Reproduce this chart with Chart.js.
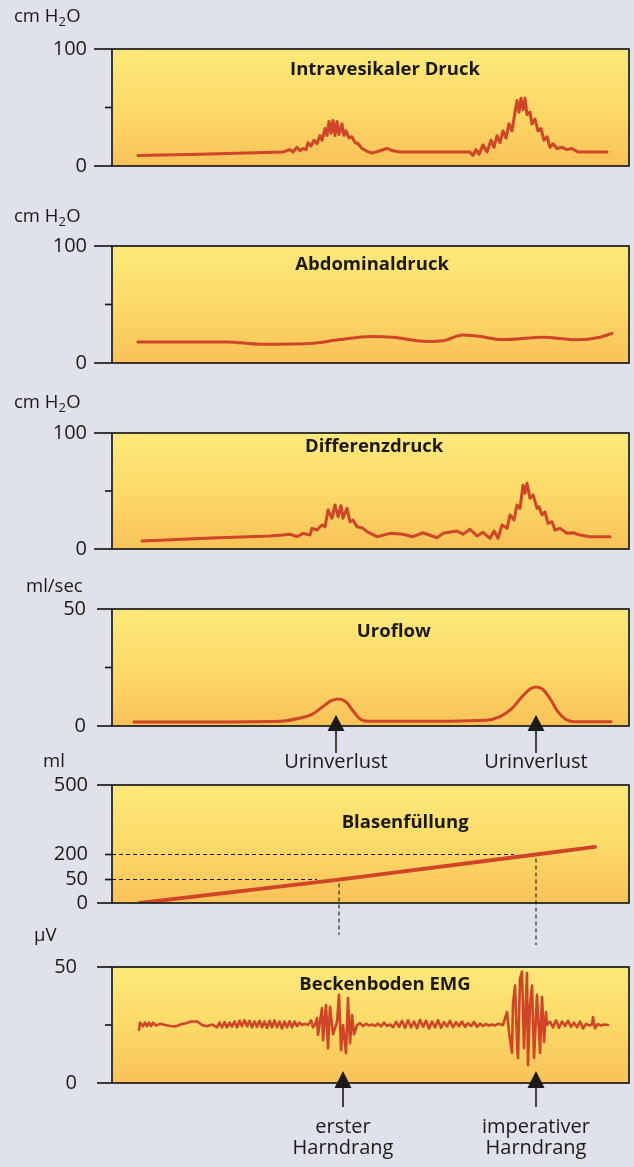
<!DOCTYPE html>
<html lang="de">
<head>
<meta charset="utf-8">
<title>Urodynamische Messung</title>
<script src="https://cdn.jsdelivr.net/npm/chart.js@4.4.0/dist/chart.umd.min.js"></script>
<style>
  html, body { margin: 0; padding: 0; background: #dfe1eb; }
  #blatt { position: relative; width: 634px; height: 1167px; overflow: hidden; background: #dfe1eb; }
  #blatt canvas { position: absolute; left: 0; top: 0; }
</style>
</head>
<body>
<div id="blatt">
  <canvas id="p1" width="634" height="1167"></canvas>
  <canvas id="p2" width="634" height="1167"></canvas>
  <canvas id="p3" width="634" height="1167"></canvas>
  <canvas id="p4" width="634" height="1167"></canvas>
  <canvas id="p5" width="634" height="1167"></canvas>
  <canvas id="p6" width="634" height="1167"></canvas>
</div>
<script>
// Zeitachse in willkuerlichen Einheiten, 0 = linker Rand des Rahmens
const zeitMax = 517;

// Messkurven als [Zeit, Wert]
const intravesikalerDruck = [
  [26, 9], [88, 10], [171, 12], [178, 14], [181, 12], [185, 16], [188, 13], [191, 15], [194, 14],
  [196, 20], [199, 17], [202, 22], [205, 19], [208, 26], [210, 22], [213, 32], [215, 26], [217, 38],
  [219, 28], [221, 39], [223, 26], [225, 38], [227, 27], [230, 36], [232, 26], [234, 30], [237, 24],
  [240, 25], [243, 20], [246, 19], [250, 15], [254, 13], [260, 11], [268, 13], [275, 15], [281, 13],
  [288, 12], [358, 12], [361, 9], [364, 14], [367, 10], [371, 18], [375, 12], [379, 22], [382, 16],
  [385, 26], [388, 20], [391, 30], [394, 24], [397, 36], [400, 30], [403, 46], [405, 56], [407, 46],
  [409, 58], [411, 48], [413, 58], [415, 44], [418, 46], [420, 36], [423, 40], [426, 30], [429, 32],
  [432, 22], [435, 25], [438, 16], [441, 19], [445, 15], [450, 16], [455, 14], [460, 15], [466, 12],
  [495, 12]
];

const abdominaldruck = [
  [26, 18], [115, 18], [148, 16], [198, 16.6], [228, 20], [258, 22.7], [281, 22], [315, 18.4],
  [331, 19], [351, 24], [365, 23], [391, 20], [431, 22], [465, 19.8], [488, 22], [500, 25.3]
];

const differenzdruck = [
  [30, 7], [100, 9.5], [158, 11.2], [171, 12], [178, 12.7], [185, 10.6], [191, 13.5], [198, 12],
  [200, 17.8], [205, 16.4], [210, 20.7], [213, 19.2], [216, 33.6], [220, 26.5], [223, 37.9],
  [226, 27.8], [229, 37.3], [231, 26.5], [235, 35], [238, 23.5], [241, 25], [245, 19.2], [250, 18.4],
  [255, 15], [265, 10.6], [278, 13.5], [291, 12.7], [301, 10.6], [311, 14], [325, 9.7], [331, 13.5],
  [345, 15.5], [351, 12.7], [358, 17], [365, 11.2], [371, 14.4], [378, 9.2], [382, 15.5], [386, 9.2],
  [390, 20.7], [395, 17.8], [398, 29.3], [402, 25], [405, 37.9], [408, 35], [411, 55], [413, 48],
  [415, 56.6], [418, 43.7], [421, 46.6], [425, 35], [427, 36.5], [430, 29.3], [433, 32], [436, 22],
  [440, 23.5], [443, 16.4], [448, 17.8], [455, 13.5], [461, 14], [468, 12], [478, 10.6], [498, 10.6]
];

const uroflow = [
  [22, 1.7], [88, 1.7], [168, 2], [188, 3.4], [200, 5], [210, 8], [218, 10.5], [226, 11.5],
  [234, 10.3], [241, 6.5], [248, 3], [256, 2], [288, 2], [374, 2.5], [388, 4], [400, 7.5],
  [410, 12.5], [418, 15.8], [424, 16.7], [431, 15.6], [439, 11], [446, 6], [454, 2.8], [463, 1.8],
  [499, 1.8]
];

const blasenfuellung = [[28, 0], [227, 50], [424, 200], [483, 233]];

const beckenbodenEmg = [
  [27, 23], [28, 26], [31, 24.5], [33, 26], [35, 24.5], [37, 26], [39, 24.5], [41, 26], [44, 24.8],
  [48, 25.5], [53, 25], [58, 24.6], [64, 24.4], [69, 25.3], [74, 25.8], [79, 26.5], [85, 26.5],
  [90, 25], [95, 24.5], [100, 25.2],
  [105, 24], [107.5, 26], [110, 24], [112.5, 26.2], [115, 24], [117.5, 26], [120, 24.3], [122.5, 26.5],
  [125, 24], [127.5, 26.8], [130, 24.5], [132.5, 27], [135, 24.5], [137.5, 26.8], [140, 24],
  [142.5, 26.5], [145, 24.2], [147.5, 26.8], [150, 24], [152.5, 26.5], [155, 23.8], [157.5, 26.8],
  [160, 24], [162.5, 27], [165, 24], [167.5, 26.5], [170, 23.5], [172.5, 26.5], [175, 24],
  [177.5, 26.6], [180, 24], [182.5, 26.5], [185, 24.5], [187.5, 26], [190, 25], [193, 25.5],
  [196, 25], [199, 27], [201, 24],
  [203, 25], [205, 28], [206, 20.7], [210, 32.3], [211, 18.5], [214, 33.6], [216, 15], [218, 32.8],
  [221, 21], [225, 26.3], [227, 38], [229, 14.2], [231, 25], [234, 12.9], [236, 36.6], [238, 17.2],
  [240, 29.3], [242, 21], [245, 25],
  [248, 25.8], [251, 24.5], [254, 25.5], [257, 24.8], [260, 25.2], [263, 24.6], [266, 25.6],
  [269, 24.4], [272, 26], [275, 24.6], [278, 25.2], [281, 24], [284, 26.4], [287, 24.2], [290, 26.8],
  [293, 23.8], [296, 27], [299, 24], [302, 26.5], [305, 23.6], [308, 27.2], [311, 24.2], [314, 26.8],
  [317, 23.5], [320, 26.5], [323, 24], [326, 27], [329, 23.8], [332, 26.2], [335, 24.4], [338, 26.8],
  [341, 24], [344, 26.2], [347, 24.5], [350, 26.5], [353, 24.2], [356, 25.8], [359, 24.5],
  [362, 26.3], [365, 24.2], [368, 25.6], [371, 24.6], [374, 25.4], [377, 24.8], [380, 25.2],
  [383, 24.8], [386, 25.5], [391, 25],
  [395, 30.6], [397, 22], [400, 13], [401, 34], [403, 42], [405, 17.7], [406, 10.8], [408, 45],
  [410, 48], [412, 15], [415, 47.4], [416, 7.8], [418, 33.6], [420, 42], [422, 10.8], [425, 38],
  [427, 22], [428, 13], [430, 37], [432, 17.7], [434, 30.6], [435, 25],
  [438, 26.5], [441, 24], [444, 27], [447, 23.8], [450, 26.5], [453, 24.5], [456, 26.8], [459, 24.2],
  [462, 26], [465, 24], [468, 26.5], [471, 23.5], [474, 25.5], [477, 24.8], [480, 25.2], [481, 28.4],
  [483, 23.6], [486, 25.4], [489, 24.8], [492, 25.2], [496, 25]
];

// Achsenteilung
const druckTicks = [0, 50, 100];
const druckTickText = ['0', '', '100'];
const flowTicks = [0, 25, 50];
const flowTickText = ['0', '', '50'];
const volumenTicks = [0, 50, 200, 500];
const volumenTickText = ['0', '50', '200', '500'];
const emgTicks = [0, 25, 50];
const emgTickText = ['0', '', '50'];

// Ereignisse
const blasenSchwellen = [50, 200];
const urinverlustZeit = [224, 424];
const urinverlustText = ['Urinverlust', 'Urinverlust'];
const harndrangZeit = [231, 424];
const harndrangText = [['erster', 'Harndrang'], ['imperativer', 'Harndrang']];

const SCHRIFT = '"Open Sans", "DejaVu Sans", sans-serif';
const TINTE = '#1c1a19';
const KURVE = '#d04428';

// nicht-lineare Teilung der Blasenfuellung (Wert -> Anteil der Hoehe)
const volumenStufen = [[0, 0], [50, 0.199], [200, 0.411], [500, 1]];

class StufenSkala extends Chart.LinearScale {
  getPixelForValue(value) {
    if (value === null || isNaN(value)) return NaN;
    const s = volumenStufen;
    let i = 1;
    while (i < s.length - 1 && value > s[i][0]) i++;
    const [v0, d0] = s[i - 1];
    const [v1, d1] = s[i];
    return this.getPixelForDecimal(d0 + (value - v0) / (v1 - v0) * (d1 - d0));
  }
  getValueForPixel(pixel) {
    const d = this.getDecimalForPixel(pixel);
    const s = volumenStufen;
    let i = 1;
    while (i < s.length - 1 && d > s[i][1]) i++;
    const [v0, d0] = s[i - 1];
    const [v1, d1] = s[i];
    return v0 + (d - d0) / (d1 - d0) * (v1 - v0);
  }
}
StufenSkala.id = 'stufen';
Chart.register(StufenSkala);

function schreibeEinheit(ctx, teile, x, y) {
  ctx.textAlign = 'left';
  ctx.textBaseline = 'middle';
  teile.forEach(([text, tief]) => {
    ctx.font = (tief ? '13px ' : '18.5px ') + SCHRIFT;
    ctx.fillText(text, x, tief ? y + 5 : y);
    x += ctx.measureText(text).width + (tief ? 0.5 : 0);
  });
}

function pfeil(ctx, x, spitze, basis, ende) {
  ctx.beginPath();
  ctx.moveTo(x, spitze);
  ctx.lineTo(x - 8.5, basis);
  ctx.lineTo(x + 8.5, basis);
  ctx.closePath();
  ctx.fill();
  ctx.lineWidth = 1.6;
  ctx.beginPath();
  ctx.moveTo(x, basis);
  ctx.lineTo(x, ende);
  ctx.stroke();
}

function machDeko(p) {
  return {
    id: 'deko',
    beforeDraw(chart) {
      const { ctx, chartArea: a } = chart;
      const g = ctx.createLinearGradient(0, a.top, 0, a.bottom);
      g.addColorStop(0, '#fde97a');
      g.addColorStop(0.5, '#fcda68');
      g.addColorStop(1, '#f8c258');
      ctx.save();
      ctx.fillStyle = g;
      ctx.fillRect(a.left, a.top, a.right - a.left, a.bottom - a.top);
      ctx.restore();
    },
    afterDraw(chart) {
      const { ctx, chartArea: a } = chart;
      const sx = chart.scales.x;
      const sy = chart.scales.y;
      ctx.save();
      ctx.strokeStyle = TINTE;
      ctx.fillStyle = TINTE;

      // Hilfslinien der Blasenfuellung
      if (p.schwellen) {
        ctx.lineWidth = 1.1;
        ctx.setLineDash([4, 3]);
        p.schwellen.forEach((s, i) => {
          const punkt = p.daten.find(d => d[1] === s);
          const px = sx.getPixelForValue(punkt[0]);
          const py = sy.getPixelForValue(s);
          ctx.beginPath();
          ctx.moveTo(a.left, py);
          ctx.lineTo(px - 22, py);
          ctx.moveTo(px, py + 4);
          ctx.lineTo(px, a.bottom + p.lotLaenge[i]);
          ctx.stroke();
        });
        ctx.setLineDash([]);
      }

      // Rahmen und Teilstriche
      ctx.lineWidth = 1.7;
      ctx.strokeRect(a.left, a.top, a.right - a.left, a.bottom - a.top);
      sy.ticks.forEach((t, i) => {
        const py = sy.getPixelForValue(t.value);
        const lang = (i === 0 || i === sy.ticks.length - 1) ? p.strich : 7;
        ctx.beginPath();
        ctx.moveTo(a.left - lang, py);
        ctx.lineTo(a.left, py);
        ctx.stroke();
      });

      // Titel
      ctx.font = 'bold 18.5px ' + SCHRIFT;
      ctx.textAlign = 'center';
      ctx.textBaseline = 'middle';
      ctx.fillText(p.titel, a.left + p.titelX * (a.right - a.left), a.top + p.titelY);

      // Einheit
      schreibeEinheit(ctx, p.einheit, p.einheitX, a.top + p.einheitY);

      // Pfeile mit Beschriftung
      if (p.marken) {
        p.marken.zeit.forEach((t, i) => {
          const x = sx.getPixelForValue(t);
          pfeil(ctx, x, a.bottom - p.marken.spitze, a.bottom + 5, a.bottom + p.marken.schaft);
          const zeilen = [].concat(p.marken.text[i]);
          ctx.font = '20px ' + SCHRIFT;
          ctx.textAlign = 'center';
          ctx.textBaseline = 'middle';
          zeilen.forEach((z, k) => {
            ctx.fillText(z, x, a.bottom + p.marken.textY + k * 21);
          });
        });
      }
      ctx.restore();
    }
  };
}

function zeichnePanel(p) {
  return new Chart(document.getElementById(p.id), {
    type: 'line',
    data: {
      datasets: [{
        data: p.daten,
        borderColor: KURVE,
        borderWidth: p.dicke,
        pointRadius: 0,
        tension: p.glatt ? 0.4 : 0,
        cubicInterpolationMode: p.glatt ? 'monotone' : 'default',
        borderJoinStyle: 'round',
        borderCapStyle: 'round',
        fill: false
      }]
    },
    options: {
      responsive: false,
      animation: false,
      events: [],
      layout: { padding: { top: p.oben, bottom: 1167 - p.unten, left: 0, right: 5 } },
      plugins: { legend: { display: false }, tooltip: { enabled: false } },
      scales: {
        x: { type: 'linear', display: false, min: 0, max: zeitMax },
        y: {
          type: p.skala || 'linear',
          min: p.ticks[0],
          max: p.ticks[p.ticks.length - 1],
          afterBuildTicks: s => { s.ticks = p.ticks.map(v => ({ value: v })); },
          afterFit: s => { s.width = 112; },
          grid: { display: false, drawTicks: false },
          border: { display: false },
          ticks: {
            padding: p.abstand,
            color: TINTE,
            font: { family: SCHRIFT, size: 20 },
            callback: (v, i) => p.tickText[i]
          }
        }
      }
    },
    plugins: [machDeko(p)]
  });
}

const panels = [
  { id: 'p1', daten: intravesikalerDruck, ticks: druckTicks, tickText: druckTickText, oben: 49, unten: 166,
    titel: 'Intravesikaler Druck', titelX: 0.528, titelY: 21, einheit: [['cm H', false], ['2', true], ['O', false]],
    einheitX: 14, einheitY: -32, strich: 18, abstand: 25, dicke: 3 },
  { id: 'p2', daten: abdominaldruck, ticks: druckTicks, tickText: druckTickText, oben: 246, unten: 363,
    titel: 'Abdominaldruck', titelX: 0.503, titelY: 19, einheit: [['cm H', false], ['2', true], ['O', false]],
    einheitX: 14, einheitY: -29, strich: 18, abstand: 25, dicke: 3, glatt: true },
  { id: 'p3', daten: differenzdruck, ticks: druckTicks, tickText: druckTickText, oben: 433, unten: 549,
    titel: 'Differenzdruck', titelX: 0.507, titelY: 14, einheit: [['cm H', false], ['2', true], ['O', false]],
    einheitX: 14, einheitY: -30, strich: 18, abstand: 25, dicke: 3 },
  { id: 'p4', daten: uroflow, ticks: flowTicks, tickText: flowTickText, oben: 609, unten: 726,
    titel: 'Uroflow', titelX: 0.545, titelY: 23, einheit: [['ml/sec', false]],
    einheitX: 26, einheitY: -22, strich: 15, abstand: 26, dicke: 3, glatt: true,
    marken: { zeit: urinverlustZeit, text: urinverlustText, spitze: 11, schaft: 27, textY: 36 } },
  { id: 'p5', daten: blasenfuellung, ticks: volumenTicks, tickText: volumenTickText, oben: 785, unten: 903,
    skala: 'stufen', titel: 'Blasenfüllung', titelX: 0.567, titelY: 38, einheit: [['ml', false]],
    einheitX: 43, einheitY: -23, strich: 15, abstand: 24, dicke: 3.8,
    schwellen: blasenSchwellen, lotLaenge: [32, 42] },
  { id: 'p6', daten: beckenbodenEmg, ticks: emgTicks, tickText: emgTickText, oben: 967, unten: 1083,
    titel: 'Beckenboden EMG', titelX: 0.528, titelY: 18, einheit: [['µV', false]],
    einheitX: 34, einheitY: -31, strich: 15, abstand: 35, dicke: 2.6,
    marken: { zeit: harndrangZeit, text: harndrangText, spitze: 12, schaft: 24, textY: 44 } }
];

panels.forEach(zeichnePanel);
</script>
</body>
</html>
